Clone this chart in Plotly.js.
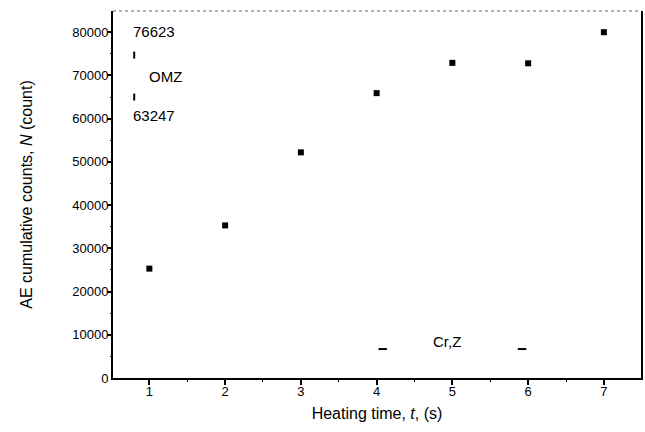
<!DOCTYPE html>
<html>
<head>
<meta charset="utf-8">
<script src="https://cdn.plot.ly/plotly-3.0.1.min.js"></script>
<style>html,body{margin:0;padding:0;background:#fff;}#chart{width:645px;height:432px;}</style>
</head>
<body>
<div id="chart"></div>
<script>
// Data
const heatingTime = [1, 2, 3, 4, 5, 6, 7];
const aeCounts = [25300, 35300, 52200, 65900, 72900, 72800, 80000];

const cmzRangeX = [0.8, 0.8];
const cmzRangeY = [74700, 65000];
const crzRangeX = [4.08, 5.92];
const crzRangeY = [6700, 6700];

const xRange = [0.52, 7.49];
const yRange = [0, 84900];
const yTickStep = 10000;
const xTickStep = 1;

const labelCmzTop = "76623";
const labelCmzBottom = "63247";
const labelCmz = "OMZ";
const labelCrz = "Cr,Z";

const fontFam = "Liberation Sans, Arial, sans-serif";

const traces = [
  {
    x: heatingTime, y: aeCounts, type: "scatter", mode: "markers",
    marker: {symbol: "square", size: 6, color: "#000"}, showlegend: false
  },
  {
    x: cmzRangeX, y: cmzRangeY, type: "scatter", mode: "markers",
    marker: {symbol: "line-ns", size: 5, line: {width: 2, color: "#000"}}, showlegend: false
  },
  {
    x: crzRangeX, y: crzRangeY, type: "scatter", mode: "markers",
    marker: {symbol: "line-ew", size: 6, line: {width: 2, color: "#000"}}, showlegend: false
  },
  // invisible trace on helper axes so they get drawn
  {
    x: heatingTime, y: aeCounts, xaxis: "x2", yaxis: "y2", type: "scatter", mode: "markers",
    marker: {size: 1, opacity: 0}, hoverinfo: "skip", showlegend: false
  }
];

const tickStyle = {ticks: "inside", ticklen: 6, tickwidth: 2, tickcolor: "#000"};
const minorStyle = {ticks: "inside", ticklen: 3, tickwidth: 1, tickcolor: "#000", nticks: 2};

const layout = {
  width: 645, height: 432,
  margin: {l: 113, r: 4, t: 11, b: 54},
  paper_bgcolor: "#fff", plot_bgcolor: "#fff",
  font: {family: fontFam, color: "#000", size: 13},
  xaxis: {
    range: xRange, tickmode: "linear", tick0: 0, dtick: xTickStep, ticks: "",
    showline: true, linewidth: 2, linecolor: "#000", mirror: false,
    showgrid: false, zeroline: false,
    tickfont: {size: 13, family: fontFam},
    title: {text: "Heating time, <i>t</i>, (s)", font: {size: 16, family: fontFam}, standoff: 10}
  },
  yaxis: {
    range: yRange, tickmode: "linear", tick0: 0, dtick: yTickStep, tickformat: "d", ticks: "",
    showline: true, linewidth: 2, linecolor: "#000", mirror: true,
    showgrid: false, zeroline: false,
    tickfont: {size: 13, family: fontFam},
    title: {text: "AE cumulative counts, <i>N</i> (count)", font: {size: 16, family: fontFam}, standoff: 36}
  },
  // helper axes placed on the bottom / left edges so their ticks point into the plot
  xaxis2: Object.assign({
    overlaying: "x", side: "top", anchor: "free", position: 0, range: xRange,
    tickmode: "linear", tick0: 0, dtick: xTickStep,
    showline: false, showticklabels: false, showgrid: false, zeroline: false
  }, tickStyle, {minor: minorStyle}),
  yaxis2: Object.assign({
    overlaying: "y", side: "right", anchor: "free", position: 0, range: yRange,
    tickmode: "linear", tick0: 0, dtick: yTickStep,
    showline: false, showticklabels: false, showgrid: false, zeroline: false
  }, tickStyle, {minor: minorStyle}),
  shapes: [
    {type: "line", xref: "paper", yref: "paper", x0: 0, x1: 1, y0: 1, y1: 1,
     line: {color: "#666", width: 1, dash: "dot"}}
  ],
  annotations: [
    {x: 0.76, y: 80050, text: labelCmzTop, showarrow: false, xanchor: "left", yanchor: "middle", font: {size: 15}},
    {x: 0.97, y: 69800, text: labelCmz, showarrow: false, xanchor: "left", yanchor: "middle", font: {size: 15}},
    {x: 0.76, y: 60700, text: labelCmzBottom, showarrow: false, xanchor: "left", yanchor: "middle", font: {size: 15}},
    {x: 4.72, y: 8400, text: labelCrz, showarrow: false, xanchor: "left", yanchor: "middle", font: {size: 15}}
  ]
};

Plotly.newPlot("chart", traces, layout, {displayModeBar: false});
</script>
</body>
</html>
